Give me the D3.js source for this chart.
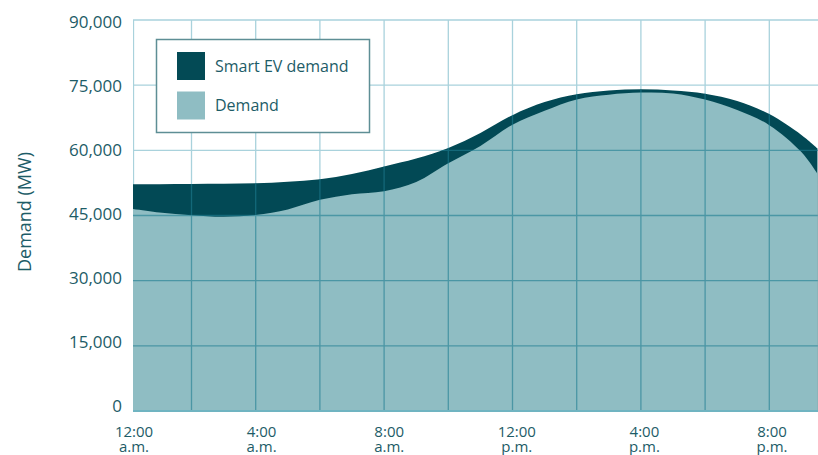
<!DOCTYPE html>
<html>
<head>
<meta charset="utf-8">
<script src="https://cdn.jsdelivr.net/npm/d3@7"></script>
<style>
  html, body { margin: 0; padding: 0; background: #fff; }
  svg { display: block; font-family: "Open Sans", "Noto Sans", sans-serif; }
</style>
</head>
<body>
<svg id="chart" width="818" height="455"></svg>
<script>
// Hour of day (0 = midnight)
const hours = [0, 1, 2, 3, 4, 5, 6, 7, 8, 9, 10, 11, 12, 13, 14, 15, 16, 17, 18, 19, 20, 21, 21.5];
// Baseline system demand (MW)
const demand = [46700, 45700, 45050, 44700, 45100, 46400, 48600, 49900, 50600, 52700, 57000, 61000,
                65900, 69100, 71700, 72800, 73300, 73100, 71700, 69300, 65800, 59600, 54600];
// Demand including smart EV charging (MW)
const smartEvDemand = [52200, 52200, 52250, 52300, 52400, 52750, 53350, 54550, 56300, 58100, 60550, 64000,
                       68100, 71100, 72900, 73750, 74050, 73800, 73050, 71350, 68350, 63550, 60450];

const yTicks = [0, 15000, 30000, 45000, 60000, 75000, 90000];
const gridHours = [2, 4, 6, 8, 10, 12, 14, 16, 18, 20, 22];
const xTickHours = [0, 4, 8, 12, 16, 20];
const xTickLabels = [["12:00", "a.m."], ["4:00", "a.m."], ["8:00", "a.m."],
                     ["12:00", "p.m."], ["4:00", "p.m."], ["8:00", "p.m."]];
const legendItems = ["Smart EV demand", "Demand"];

const DARK = "#034a55";
const LIGHT = "#8fbdc3";
const TEXT = "#1d5c67";

const W = 818, H = 455;
const plotLeft = 133, plotRight = 818, plotTop = 20, plotBottom = 411;

const svg = d3.select("#chart");

const x = d3.scaleLinear().domain([0, 24]).range([127.3, 127.3 + 24 * 32.1]);
const y = d3.scaleLinear().domain([0, 90000]).range([plotBottom, plotTop]);
// tick label placement
const xLabel = d3.scaleLinear().domain([0, 20]).range([134, 772]);
const yLabel = d3.scaleLinear().domain([0, 90000]).range([406, 21.5]);

const rows = hours.map((h, i) => ({ h, demand: demand[i], total: smartEvDemand[i] }));

const defs = svg.append("defs");
defs.append("clipPath").attr("id", "plot-clip")
  .append("rect").attr("x", plotLeft).attr("y", 0)
  .attr("width", plotRight - plotLeft).attr("height", plotBottom);

const curve = d3.curveCatmullRom.alpha(0.5);
const areaTotal = d3.area().x(d => x(d.h)).y0(y(0)).y1(d => y(d.total)).curve(curve);
const areaDemand = d3.area().x(d => x(d.h)).y0(y(0)).y1(d => y(d.demand)).curve(curve);

defs.append("clipPath").attr("id", "fill-clip")
  .append("path").attr("d", areaTotal(rows));

function drawGrid(g, color, width) {
  g.selectAll("line.h").data(yTicks.filter(v => v > 0)).join("line")
    .attr("x1", plotLeft).attr("x2", plotRight)
    .attr("y1", d => y(d)).attr("y2", d => y(d))
    .attr("stroke", color).attr("stroke-width", width);
  g.selectAll("line.v").data(gridHours).join("line")
    .attr("x1", d => x(d)).attr("x2", d => x(d))
    .attr("y1", plotTop).attr("y2", plotBottom)
    .attr("stroke", color).attr("stroke-width", width);
}

const plot = svg.append("g").attr("clip-path", "url(#plot-clip)");
// light grid on the white background
drawGrid(plot.append("g"), "#a9d2dc", 1.3);
plot.append("line")
  .attr("x1", plotLeft + 0.5).attr("x2", plotLeft + 0.5)
  .attr("y1", plotTop).attr("y2", plotBottom)
  .attr("stroke", "#a9d2dc").attr("stroke-width", 1.3);

plot.append("path").attr("d", areaTotal(rows)).attr("fill", DARK);
plot.append("path").attr("d", areaDemand(rows)).attr("fill", LIGHT);

// grid seen through the filled areas
const innerGrid = plot.append("g").attr("clip-path", "url(#fill-clip)")
  .attr("opacity", 0.6);
drawGrid(innerGrid, "#1e7d91", 1.3);

// baseline
svg.append("line")
  .attr("x1", plotLeft).attr("x2", plotRight)
  .attr("y1", plotBottom).attr("y2", plotBottom)
  .attr("stroke", "#70b4c1").attr("stroke-width", 2);

// y tick labels
svg.append("g").selectAll("text").data(yTicks).join("text")
  .attr("x", 122).attr("y", d => yLabel(d))
  .attr("dy", "0.36em")
  .attr("text-anchor", "end")
  .attr("fill", TEXT).attr("font-size", 17)
  .text(d => d3.format(",")(d));

// y axis title
svg.append("text")
  .attr("transform", "translate(31,212) rotate(-90)")
  .attr("text-anchor", "middle")
  .attr("fill", TEXT).attr("font-size", 18)
  .text("Demand (MW)");

// x tick labels, two lines each
const xl = svg.append("g").selectAll("text").data(xTickHours).join("text")
  .attr("text-anchor", "middle")
  .attr("fill", TEXT).attr("font-size", 15);
xl.append("tspan").attr("x", d => xLabel(d)).attr("y", 437)
  .text((d, i) => xTickLabels[i][0]);
xl.append("tspan").attr("x", d => xLabel(d)).attr("y", 452)
  .text((d, i) => xTickLabels[i][1]);

// legend
const legend = svg.append("g");
legend.append("rect")
  .attr("x", 156.5).attr("y", 39.5).attr("width", 213).attr("height", 93)
  .attr("fill", "#fff").attr("stroke", "#5e8e95").attr("stroke-width", 1.5);
const legendColors = [DARK, LIGHT];
const li = legend.selectAll("g.item").data(legendItems).join("g")
  .attr("transform", (d, i) => `translate(177,${52 + i * 39.5})`);
li.append("rect").attr("width", 28).attr("height", 28)
  .attr("fill", (d, i) => legendColors[i]);
li.append("text").attr("x", 38).attr("y", 14).attr("dy", "0.36em")
  .attr("fill", TEXT).attr("font-size", 16)
  .text(d => d);
</script>
</body>
</html>
